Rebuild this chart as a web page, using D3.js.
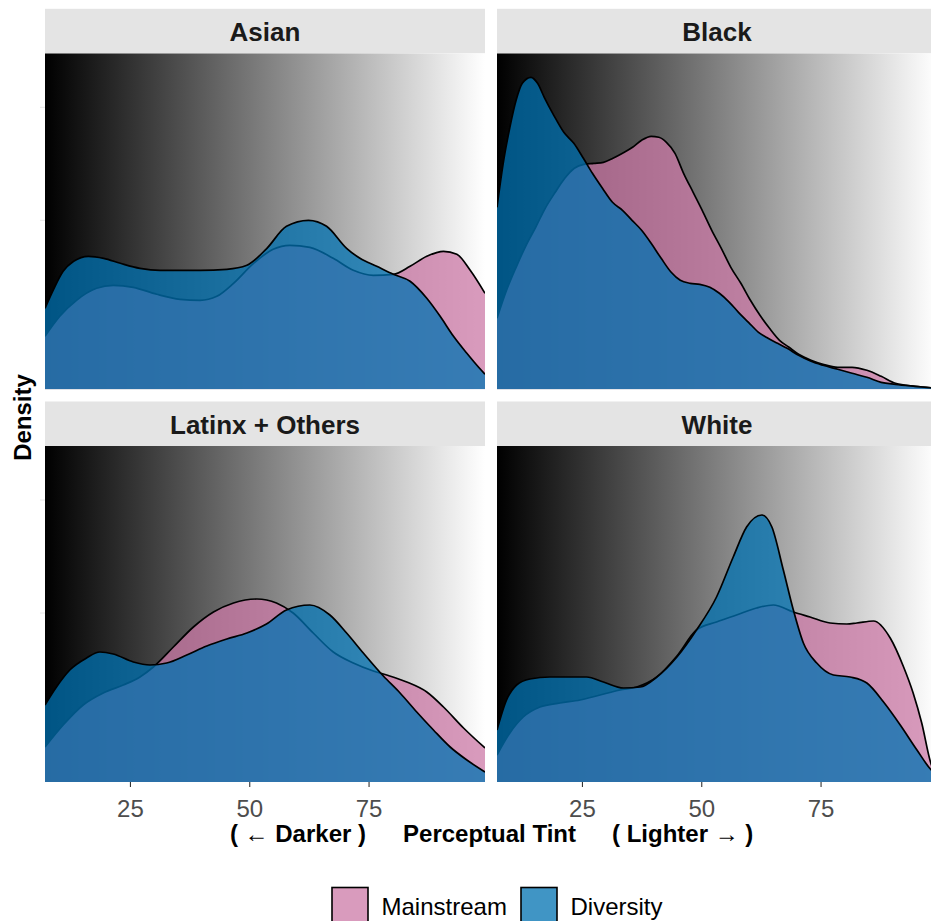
<!DOCTYPE html>
<html><head><meta charset="utf-8">
<script src="https://cdn.jsdelivr.net/npm/d3@7"></script>
<style>
body{margin:0;background:#fff}
svg{display:block}
text{font-family:"Liberation Sans",Arial,Helvetica,sans-serif}
</style>
</head><body>
<svg id="chart" width="931" height="921"></svg>
<script>
// ---------- data ----------
const facets = ["Asian", "Black", "Latinx + Others", "White"];
const seriesNames = ["Mainstream", "Diversity"];
const seriesColors = ["#CC79A7", "#0072B2"];
const xTicks = [25, 50, 75];
const yTicks = [0.0169, 0.0282];
const xDomain = [7.2, 99.4];
const yDomain = [0, 0.0336];

// [perceptual tint, density]
const asianMainstream = [[7.2,.0053],[10.3,.0073],[13.8,.0089],[18.0,.0101],[21.5,.0104],[25.7,.0102],[30.6,.0095],[35.5,.0090],[39.7,.0089],[43.2,.0093],[46.7,.0106],[50.9,.0126],[55.0,.0140],[58.5,.0144],[62.7,.0142],[67.6,.0131],[71.8,.0119],[76.0,.0114],[80.2,.0115],[83.7,.0123],[87.2,.0133],[90.7,.0138],[93.5,.0135],[96.3,.0119],[99.4,.0096]];
const asianDiversity = [[7.2,.0081],[9.0,.0100],[11.0,.0118],[13.2,.0128],[16.3,.0133],[19.5,.0131],[23.0,.0126],[27.1,.0121],[31.3,.0119],[35.5,.0119],[39.7,.0119],[45.3,.0120],[49.5,.0124],[53.7,.0141],[57.8,.0163],[62.4,.0169],[66.2,.0163],[70.4,.0141],[73.2,.0131],[76.7,.0123],[80.2,.0115],[83.7,.0108],[87.2,.0091],[90.0,.0073],[92.8,.0053],[95.6,.0036],[97.7,.0024],[99.4,.0015]];

const blackMainstream = [[7.2,.0071],[9.2,.0099],[11.2,.0122],[13.3,.0144],[15.3,.0162],[17.3,.0181],[19.4,.0197],[21.4,.0211],[23.4,.0221],[25.4,.0225],[27.5,.0226],[29.5,.0227],[31.5,.0231],[33.5,.0236],[35.6,.0242],[37.5,.0249],[39.5,.0253],[41.1,.0252],[42.7,.0247],[44.5,.0236],[46.3,.0216],[48.3,.0197],[50.2,.0179],[52.2,.0159],[54.2,.0141],[56.2,.0122],[58.3,.0106],[60.3,.0089],[62.3,.0074],[64.3,.0061],[66.4,.0049],[68.4,.0042],[70.4,.0035],[73.0,.0029],[75.5,.0025],[78.6,.0022],[81.6,.0022],[84.7,.0019],[87.7,.0013],[90.7,.0006],[94.8,.0003],[99.4,.0001]];
const blackDiversity = [[7.2,.0182],[8.6,.0229],[9.9,.0262],[11.2,.0289],[12.5,.0306],[14.3,.0312],[15.7,.0306],[17.1,.0292],[19.1,.0274],[21.2,.0257],[23.3,.0246],[25.3,.0231],[27.2,.0216],[29.3,.0201],[31.4,.0187],[33.5,.0179],[35.5,.0169],[37.5,.0159],[39.5,.0146],[41.6,.0131],[43.7,.0117],[45.6,.0109],[47.7,.0106],[49.7,.0105],[51.8,.0102],[53.8,.0096],[55.9,.0087],[57.8,.0077],[59.9,.0067],[62.0,.0057],[64.0,.0051],[66.0,.0046],[68.0,.0041],[70.4,.0034],[73.0,.0028],[75.5,.0024],[78.6,.0020],[81.6,.0016],[84.7,.0012],[87.7,.0007],[90.7,.0005],[94.8,.0003],[99.4,.0001]];

const latinxMainstream = [[7.2,.0035],[11.0,.0057],[15.2,.0077],[19.4,.0089],[23.6,.0097],[27.1,.0105],[29.9,.0115],[34.1,.0135],[38.3,.0155],[42.5,.0170],[46.7,.0179],[51.6,.0183],[55.7,.0179],[59.2,.0169],[63.4,.0149],[67.6,.0130],[71.8,.0119],[76.0,.0111],[78.8,.0107],[83.0,.0100],[87.2,.0090],[90.7,.0075],[94.9,.0054],[99.4,.0034]];
const latinxDiversity = [[7.2,.0077],[9.6,.0095],[12.4,.0112],[15.9,.0124],[18.7,.0130],[21.5,.0128],[25.7,.0120],[29.2,.0117],[32.7,.0119],[36.9,.0127],[41.1,.0136],[45.3,.0143],[49.5,.0149],[53.6,.0158],[57.8,.0172],[62.7,.0177],[66.9,.0167],[70.4,.0149],[73.9,.0129],[78.1,.0106],[81.6,.0089],[85.1,.0070],[88.6,.0052],[92.1,.0035],[95.6,.0022],[99.4,.0010]];

const whiteMainstream = [[7.2,.0027],[9.9,.0049],[12.7,.0065],[16.2,.0075],[20.4,.0079],[24.6,.0082],[28.8,.0087],[33.0,.0092],[36.5,.0095],[40.7,.0105],[44.9,.0126],[49.0,.0152],[53.2,.0160],[57.4,.0167],[61.6,.0174],[65.1,.0177],[69.3,.0170],[72.8,.0165],[77.0,.0159],[80.5,.0158],[82.6,.0159],[86.1,.0161],[89.6,.0144],[92.4,.0115],[94.4,.0089],[96.2,.0059],[98.1,.0019],[99.4,.0006]];
const whiteDiversity = [[7.2,.0052],[9.2,.0082],[11.3,.0097],[14.1,.0103],[18.3,.0105],[22.5,.0105],[26.0,.0105],[29.5,.0100],[33.7,.0094],[37.2,.0095],[40.7,.0105],[44.9,.0125],[49.0,.0152],[53.2,.0185],[56.7,.0225],[59.5,.0255],[62.7,.0267],[64.8,.0255],[67.2,.0212],[69.3,.0172],[71.4,.0139],[74.2,.0119],[77.7,.0107],[81.2,.0105],[84.7,.0099],[88.2,.0080],[91.7,.0057],[95.2,.0032],[98.2,.0012],[99.4,.0007]];

const facetSeries = [
  [asianMainstream, asianDiversity],
  [blackMainstream, blackDiversity],
  [latinxMainstream, latinxDiversity],
  [whiteMainstream, whiteDiversity]
];

// ---------- layout ----------
const svg = d3.select("#chart");
const panelW = 440, panelH = 336, stripH = 44.5;
const colX = [45, 497];
const rowY = [53.3, 446];

const x = d3.scaleLinear().domain(xDomain).range([0, panelW]);
const y = d3.scaleLinear().domain(yDomain).range([panelH, 0]);

const defs = svg.append("defs");
const grad = defs.append("linearGradient").attr("id", "bgGrad")
  .attr("x1", "0%").attr("x2", "100%").attr("y1", "0%").attr("y2", "0%");
grad.append("stop").attr("offset", "0%").attr("stop-color", "#000");
grad.append("stop").attr("offset", "100%").attr("stop-color", "#fff");
defs.append("clipPath").attr("id", "panelClip")
  .append("rect").attr("x", 0).attr("y", 0).attr("width", panelW).attr("height", panelH);

const area = d3.area().x(d => x(d[0])).y0(panelH).y1(d => y(d[1])).curve(d3.curveMonotoneX);
const line = d3.line().x(d => x(d[0])).y(d => y(d[1])).curve(d3.curveMonotoneX);

facets.forEach((name, i) => {
  const c = i % 2, r = Math.floor(i / 2);
  const g = svg.append("g").attr("transform", `translate(${colX[c]},${rowY[r]})`);

  // strip
  g.append("rect").attr("x", 0).attr("y", -stripH).attr("width", panelW).attr("height", stripH)
    .attr("fill", "#e4e4e4");
  g.append("text").attr("x", panelW / 2).attr("y", -stripH + 32.3)
    .attr("text-anchor", "middle").attr("font-size", 26).attr("font-weight", "bold")
    .attr("fill", "#1a1a1a").text(name);

  // panel
  const p = g.append("g").attr("clip-path", "url(#panelClip)");
  p.append("rect").attr("width", panelW).attr("height", panelH).attr("fill", "url(#bgGrad)");
  facetSeries[i].forEach((s, k) => {
    p.append("path").datum(s).attr("d", area)
      .attr("fill", seriesColors[k]).attr("fill-opacity", 0.75);
    p.append("path").datum(s).attr("d", line)
      .attr("fill", "none").attr("stroke", "#000").attr("stroke-width", 1.7);
  });

  // faint y ticks (left column)
  if (c === 0) {
    g.selectAll(".yt").data(yTicks).enter().append("line")
      .attr("x1", -5).attr("x2", 0)
      .attr("y1", d => y(d)).attr("y2", d => y(d))
      .attr("stroke", "#e6e6e6").attr("stroke-width", 1);
  }

  // x axis (bottom row)
  if (r === 1) {
    const ax = g.append("g").attr("transform", `translate(0,${panelH})`)
      .call(d3.axisBottom(x).tickValues(xTicks).tickSize(5).tickPadding(13).tickFormat(d3.format("d")));
    ax.select(".domain").remove();
    ax.selectAll(".tick line").attr("stroke", "#333").attr("stroke-width", 1.1);
    ax.selectAll(".tick text").attr("font-size", 24).attr("fill", "#4d4d4d")
      .attr("font-family", "'Liberation Sans',Arial,sans-serif");
  }
});

// axis titles
svg.append("text").attr("transform", "translate(31,417.5) rotate(-90)")
  .attr("text-anchor", "middle").attr("font-size", 24).attr("font-weight", "bold")
  .attr("fill", "#000").text("Density");

const tb = 842;
svg.append("text").attr("x", 366).attr("y", tb).attr("text-anchor", "end")
  .attr("font-size", 24).attr("font-weight", "bold").attr("fill", "#000").text("( \u2190 Darker )");
svg.append("text").attr("x", 489.5).attr("y", tb).attr("text-anchor", "middle")
  .attr("font-size", 24).attr("font-weight", "bold").attr("fill", "#000").text("Perceptual Tint");
svg.append("text").attr("x", 612).attr("y", tb).attr("text-anchor", "start")
  .attr("font-size", 24).attr("font-weight", "bold").attr("fill", "#000").text("( Lighter \u2192 )");

// legend
const legendX = [332, 521];
seriesNames.forEach((n, k) => {
  const lg = svg.append("g").attr("transform", `translate(${legendX[k]},887.5)`);
  lg.append("rect").attr("width", 36).attr("height", 36)
    .attr("fill", seriesColors[k]).attr("fill-opacity", 0.75)
    .attr("stroke", "#000").attr("stroke-width", 1.6);
  lg.append("text").attr("x", 49.5).attr("y", 27).attr("font-size", 24)
    .attr("fill", "#000").text(n);
});
</script>
</body></html>
